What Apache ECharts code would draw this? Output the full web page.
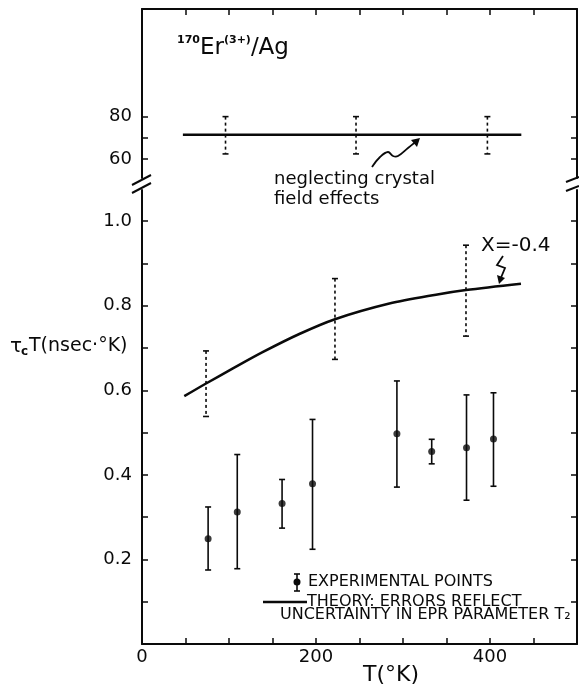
<!DOCTYPE html>
<html>
<head>
<meta charset="utf-8">
<script src="https://cdn.jsdelivr.net/npm/echarts@6/dist/echarts.min.js"></script>
<style>
  html, body { margin: 0; padding: 0; background: #fff; }
  #chart { width: 579px; height: 687px; }
</style>
</head>
<body>
<div id="chart"></div>
<script>
// experimental points: T, value, lower, upper
var expT = [76, 109.5, 161, 196, 293, 333, 373, 404];
var expVal = [0.249, 0.312, 0.332, 0.379, 0.497, 0.455, 0.464, 0.485];
var expLow = [0.175, 0.178, 0.274, 0.224, 0.371, 0.426, 0.340, 0.373];
var expHigh = [0.324, 0.448, 0.389, 0.531, 0.622, 0.484, 0.589, 0.594];

// theory curve x = -0.4
var theoryT = [48.6, 73.6, 104, 138.6, 180.8, 221.8, 284.3, 337.9, 372.4, 435.6];
var theoryVal = [0.586, 0.616, 0.651, 0.690, 0.733, 0.768, 0.805, 0.826, 0.837, 0.852];
// theory error bars (dashed)
var thErrT = [73.6, 221.8, 372.4];
var thErrLow = [0.538, 0.673, 0.728];
var thErrHigh = [0.693, 0.864, 0.943];

// neglecting crystal field effects (upper panel)
var flatT = [47, 436];
var flatVal = [71.5, 71.5];
var flatErrT = [96, 246, 397];
var flatErrLow = [62.5, 62.5, 62.5];
var flatErrHigh = [80, 80, 80];

// ticks
var xTicks = [50, 100, 150, 200, 250, 300, 350, 400, 450];
var xLabels = [0, 200, 400];
var lowTicks = [0.1, 0.2, 0.3, 0.4, 0.5, 0.6, 0.7, 0.8, 0.9, 1.0];
var lowLabels = [0.2, 0.4, 0.6, 0.8, 1.0];
var upTicks = [60, 70, 80];
var upLabels = [60, 80];

var INK = '#0a0a0a';
var FONT = 'DejaVu Sans';

function zip(a, b, c) {
  return a.map(function (v, i) { return c ? [v, b[i], c[i]] : [v, b[i]]; });
}

function errorBar(dashed) {
  return function (params, api) {
    var x = api.value(0);
    var top = api.coord([x, api.value(2)]);
    var bot = api.coord([x, api.value(1)]);
    var cap = 3;
    var solid = { stroke: INK, lineWidth: 1.6 };
    return {
      type: 'group',
      children: [
        { type: 'line', shape: { x1: top[0], y1: top[1], x2: bot[0], y2: bot[1] },
          style: { stroke: INK, lineWidth: 1.6, lineDash: dashed ? [3, 3] : null } },
        { type: 'line', shape: { x1: top[0] - cap, y1: top[1], x2: top[0] + cap, y2: top[1] }, style: solid },
        { type: 'line', shape: { x1: bot[0] - cap, y1: bot[1], x2: bot[0] + cap, y2: bot[1] }, style: solid }
      ]
    };
  };
}

function yAx(grid, pos, min, max, ticks, labels) {
  return {
    type: 'value', gridIndex: grid, position: pos, min: min, max: max,
    splitLine: { show: false },
    axisLine: { show: true, lineStyle: { color: INK, width: 2 } },
    axisTick: { show: true, inside: true, length: 6, customValues: ticks, lineStyle: { color: INK, width: 1.5 } },
    axisLabel: labels ? {
      show: true, customValues: labels, margin: 10, color: INK, fontSize: 18, fontFamily: FONT,
      formatter: function (v) { return max < 2 ? v.toFixed(1) : String(v); }
    } : { show: false }
  };
}

var chart = echarts.init(document.getElementById('chart'), null, { renderer: 'canvas' });

chart.setOption({
  backgroundColor: '#fff',
  animation: false,
  grid: [
    { left: 142, right: 2, top: 9, height: 169 },
    { left: 142, right: 2, top: 190, bottom: 43 }
  ],
  xAxis: [
    {
      type: 'value', gridIndex: 0, position: 'top', min: 0, max: 500,
      splitLine: { show: false },
      axisLine: { show: true, lineStyle: { color: INK, width: 2 } },
      axisTick: { show: true, inside: true, length: 6, customValues: xTicks, lineStyle: { color: INK, width: 1.5 } },
      axisLabel: { show: false }
    },
    {
      type: 'value', gridIndex: 1, position: 'bottom', min: 0, max: 500,
      splitLine: { show: false },
      axisLine: { show: true, lineStyle: { color: INK, width: 2 } },
      axisTick: { show: true, inside: true, length: 6, customValues: xTicks, lineStyle: { color: INK, width: 1.5 } },
      axisLabel: { show: true, customValues: xLabels, margin: 4, color: INK, fontSize: 18, fontFamily: FONT }
    }
  ],
  yAxis: [
    yAx(0, 'left', 51.2, 130.5, upTicks, upLabels),
    yAx(0, 'right', 51.2, 130.5, upTicks, null),
    yAx(1, 'left', 0, 1.0735, lowTicks, lowLabels),
    yAx(1, 'right', 0, 1.0735, lowTicks, null)
  ],
  series: [
    {
      type: 'line', xAxisIndex: 0, yAxisIndex: 0, data: zip(flatT, flatVal),
      symbol: 'none', lineStyle: { color: INK, width: 2.5 }
    },
    {
      type: 'custom', xAxisIndex: 0, yAxisIndex: 0, data: zip(flatErrT, flatErrLow, flatErrHigh),
      renderItem: errorBar(true)
    },
    {
      type: 'line', xAxisIndex: 1, yAxisIndex: 2, data: zip(theoryT, theoryVal),
      symbol: 'none', smooth: 0.3, lineStyle: { color: INK, width: 2.5 }
    },
    {
      type: 'custom', xAxisIndex: 1, yAxisIndex: 2, data: zip(thErrT, thErrLow, thErrHigh),
      renderItem: errorBar(true)
    },
    {
      type: 'custom', xAxisIndex: 1, yAxisIndex: 2, data: zip(expT, expLow, expHigh),
      renderItem: errorBar(false)
    },
    {
      type: 'scatter', xAxisIndex: 1, yAxisIndex: 2, data: zip(expT, expVal),
      symbol: 'circle', symbolSize: 7, itemStyle: { color: INK }
    }
  ],
  graphic: [
    // title
    {
      type: 'text', left: 177, top: 35,
      style: {
        text: '{s|170}{b|Er}{s|(3+)}{b|/Ag}',
        rich: {
          s: { fontSize: 11, fontFamily: FONT, fontWeight: 'bold', fill: INK, verticalAlign: 'top', lineHeight: 26 },
          b: { fontSize: 23, fontFamily: FONT, fill: INK, lineHeight: 26 }
        }
      }
    },
    // y axis name
    { type: 'text', left: 10, top: 337, style: { text: 'τ', fontSize: 20, fontFamily: FONT, fill: INK } },
    { type: 'text', left: 21, top: 346, style: { text: 'c', fontSize: 12, fontFamily: FONT, fontWeight: 'bold', fill: INK } },
    { type: 'text', left: 29, top: 337, style: { text: 'T(nsec·°K)', fontSize: 19, fontFamily: FONT, fill: INK } },
    // x axis name
    { type: 'text', left: 363, top: 664, style: { text: 'T(°K)', fontSize: 22, fontFamily: FONT, fill: INK } },
    // upper annotation
    {
      type: 'text', left: 274, top: 169,
      style: { text: 'neglecting crystal\nfield effects', fontSize: 18, lineHeight: 20, fontFamily: FONT, fill: INK }
    },
    {
      type: 'polyline', shape: { points: [[372, 167], [380, 157], [388, 152], [393, 156], [398, 156], [408, 148], [418, 140]], smooth: 0.4 },
      style: { fill: null, stroke: INK, lineWidth: 1.8 }
    },
    { type: 'polygon', shape: { points: [[420, 138], [411, 140], [417, 147]] }, style: { fill: INK } },
    // x = -0.4
    { type: 'text', left: 481, top: 236, style: { text: 'X=-0.4', fontSize: 20, fontFamily: FONT, fill: INK } },
    {
      type: 'polyline', shape: { points: [[503, 256], [497, 265], [505, 268], [500, 280]] },
      style: { fill: null, stroke: INK, lineWidth: 1.8 }
    },
    { type: 'polygon', shape: { points: [[499, 284], [497, 275], [505, 278]] }, style: { fill: INK } },
    // legend
    { type: 'line', shape: { x1: 297, y1: 574, x2: 297, y2: 591 }, style: { stroke: INK, lineWidth: 1.6 } },
    { type: 'line', shape: { x1: 294, y1: 574, x2: 300, y2: 574 }, style: { stroke: INK, lineWidth: 1.6 } },
    { type: 'line', shape: { x1: 294, y1: 591, x2: 300, y2: 591 }, style: { stroke: INK, lineWidth: 1.6 } },
    { type: 'circle', shape: { cx: 297, cy: 582, r: 3.5 }, style: { fill: INK } },
    { type: 'text', left: 308, top: 574, style: { text: 'EXPERIMENTAL POINTS', fontSize: 16, fontFamily: FONT, fill: INK } },
    { type: 'line', shape: { x1: 263, y1: 602, x2: 307, y2: 602 }, style: { stroke: INK, lineWidth: 2.5 } },
    {
      type: 'text', left: 307, top: 594,
      style: { text: 'THEORY: ERRORS REFLECT', fontSize: 16, fontFamily: FONT, fill: INK }
    },
    {
      type: 'text', left: 280, top: 607,
      style: { text: 'UNCERTAINTY IN EPR PARAMETER T₂', fontSize: 16, fontFamily: FONT, fill: INK }
    },
    // axis breaks
    { type: 'line', shape: { x1: 132, y1: 185, x2: 151, y2: 175 }, style: { stroke: INK, lineWidth: 2 } },
    { type: 'line', shape: { x1: 132, y1: 193, x2: 151, y2: 183 }, style: { stroke: INK, lineWidth: 2 } },
    { type: 'line', shape: { x1: 566, y1: 182, x2: 579, y2: 177 }, style: { stroke: INK, lineWidth: 2 } },
    { type: 'line', shape: { x1: 566, y1: 191, x2: 579, y2: 186 }, style: { stroke: INK, lineWidth: 2 } }
  ]
});
</script>
</body>
</html>
